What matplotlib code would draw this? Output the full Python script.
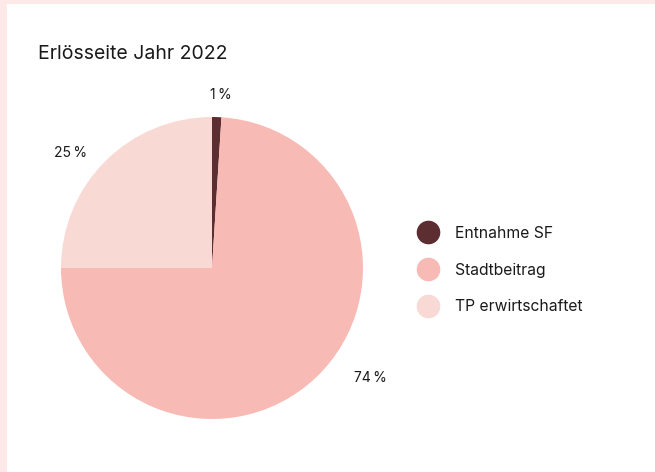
import matplotlib
matplotlib.use("Agg")
import matplotlib.pyplot as plt
import numpy as np
from matplotlib.lines import Line2D
from matplotlib.patches import Rectangle

plt.rcParams["font.family"] = ["Inter", "DejaVu Sans"]

labels = ["Entnahme SF", "Stadtbeitrag", "TP erwirtschaftet"]
values = [1, 74, 25]
colors = ["#5c2d31", "#f8bab4", "#f9d9d3"]
pct_text = ["1\u2009%", "74\u2009%", "25\u2009%"]

fig = plt.figure(figsize=(6.55, 4.72), dpi=100)
fig.patch.set_facecolor("#fde9e7")
fig.patches.append(Rectangle((7 / 655, 0), 1, 1 - 4 / 472, transform=fig.transFigure,
                             facecolor="white", edgecolor="none", zorder=-5))

fig.text(38 / 655, 1 - 54 / 472, "Erlösseite Jahr 2022", fontsize=14,
         color="#1a1a1a", va="center", ha="left")

ax = fig.add_axes([0.0931, 0.1123, 0.4611, 0.6398])
ax.set_zorder(2)
ax.patch.set_alpha(0)
wedges, _ = ax.pie(values, colors=colors, startangle=90, counterclock=False,
                   radius=1, wedgeprops=dict(linewidth=0))
ax.set_xlim(-1, 1)
ax.set_ylim(-1, 1)
ax.set_aspect("equal")

# percent labels placed outside the wedges
label_r = [1.15, 1.28, 1.21]
label_shift = [-1.2, 12.0, 6.0]  # degrees nudged off the wedge midpoint
for w, txt, r, s in zip(wedges, pct_text, label_r, label_shift):
    mid = (w.theta1 + w.theta2) / 2 + s
    ang = np.deg2rad(mid)
    ax.text(r * np.cos(ang), r * np.sin(ang), txt, ha="center", va="center",
            fontsize=10, color="#1a1a1a", clip_on=False)

handles = [Line2D([], [], marker="o", linestyle="none", markersize=16,
                  markerfacecolor=c, markeredgecolor=c) for c in colors]
leg = fig.legend(handles, labels, loc="center left", bbox_to_anchor=(404 / 655, 1 - 270 / 472),
                 frameon=False, fontsize=11.3, labelspacing=1.38, handletextpad=1.15,
                 handlelength=1.2, labelcolor="#1a1a1a")
leg.set_zorder(3)

fig.savefig("out.png", dpi=100)
